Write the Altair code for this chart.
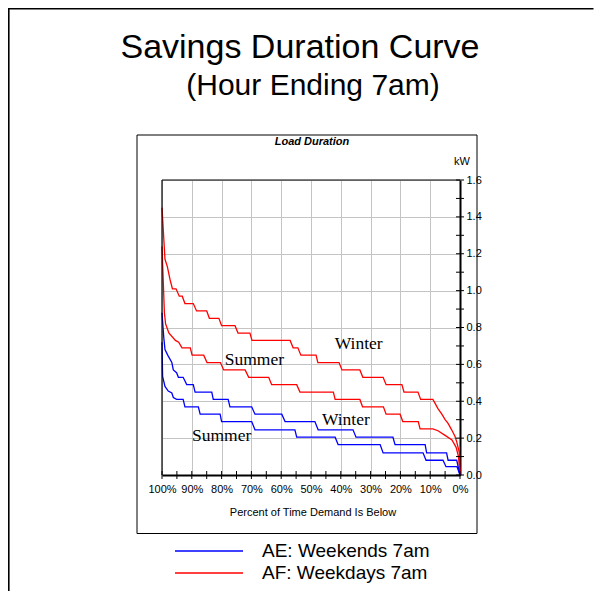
import altair as alt
import pandas as pd

# ---- data ----
af_winter_pct = [100, 99.0, 98.2, 97.3, 96.5, 95.3, 94.2, 93.2, 92.3, 89.5, 88.4, 85.0, 84.1, 80.9, 80.0,
                 75.5, 74.5, 70.5, 69.8, 57.0, 56.0, 54.4, 53.4, 48.3, 47.7, 40.6, 39.6, 33.6, 32.6, 25.8,
                 24.8, 19.5, 18.8, 14.1, 13.2, 9.1, 8.4, 7.4, 6.1, 5.0, 4.0, 2.8, 1.7, 1.1, 0.2, 0]
af_winter_kw = [1.45, 1.17, 1.13, 1.06, 1.01, 1.01, 0.97, 0.97, 0.93, 0.93, 0.89, 0.89, 0.85, 0.85, 0.81,
                0.81, 0.77, 0.77, 0.73, 0.73, 0.69, 0.69, 0.65, 0.65, 0.61, 0.61, 0.57, 0.57, 0.53, 0.53,
                0.49, 0.49, 0.45, 0.45, 0.41, 0.41, 0.39, 0.36, 0.33, 0.30, 0.28, 0.245, 0.21, 0.18, 0.12, 0.0]

af_summer_pct = [100, 99.2, 98.8, 97.7, 95.5, 94.4, 93.3, 90.5, 89.9, 86.0, 84.9, 80.4, 79.3, 72.1, 70.9,
                 64.2, 63.2, 54.8, 53.7, 42.5, 41.9, 33.6, 32.7, 25.7, 24.8, 20.1, 19.2, 14.0, 13.4, 9.1,
                 7.4, 5.0, 2.7, 1.3, 0.5, 0]
af_summer_kw = [1.24, 0.88, 0.82, 0.77, 0.73, 0.72, 0.69, 0.69, 0.65, 0.65, 0.61, 0.61, 0.57, 0.57, 0.53,
                0.53, 0.49, 0.49, 0.45, 0.45, 0.41, 0.41, 0.37, 0.37, 0.33, 0.33, 0.29, 0.29, 0.25, 0.25,
                0.24, 0.215, 0.19, 0.15, 0.10, 0.0]

ae_winter_pct = [100, 99.4, 99.0, 97.9, 96.7, 96.2, 95.1, 94.5, 92.9, 91.7, 89.5, 88.9, 83.3, 82.8, 77.8,
                 77.2, 69.9, 68.8, 59.8, 58.7, 48.7, 47.6, 35.9, 34.9, 22.5, 21.8, 11.7, 11.2, 4.5, 4.0,
                 1.1, 0]
ae_winter_kw = [0.88, 0.745, 0.68, 0.645, 0.61, 0.57, 0.555, 0.53, 0.53, 0.49, 0.49, 0.45, 0.45, 0.41, 0.41,
                0.37, 0.37, 0.33, 0.33, 0.29, 0.29, 0.245, 0.245, 0.205, 0.205, 0.165, 0.165, 0.12, 0.12, 0.08,
                0.08, 0.0]

ae_summer_pct = [100, 99.8, 99.0, 97.9, 96.7, 96.2, 95.1, 92.9, 92.3, 87.8, 87.2, 80.5, 80.0, 69.9, 68.8,
                 55.4, 54.8, 41.9, 40.9, 26.8, 25.8, 12.4, 11.4, 5.7, 4.7, 1.0, 0]
ae_summer_kw = [0.72, 0.535, 0.48, 0.455, 0.445, 0.42, 0.41, 0.41, 0.37, 0.37, 0.33, 0.33, 0.29, 0.29, 0.245,
                0.245, 0.205, 0.205, 0.165, 0.165, 0.12, 0.12, 0.08, 0.08, 0.045, 0.045, 0.0]

label_text = ["Winter", "Summer", "Winter", "Summer"]
label_pct = [34.0, 69.0, 38.3, 80.0]
label_kw = [0.71, 0.625, 0.30, 0.21]

x_label_values = [0, 10, 20, 30, 40, 50, 60, 70, 80, 90, 100]
x_tick_values = [0, 5, 10, 15, 20, 25, 30, 35, 40, 45, 50, 55, 60, 65, 70, 75, 80, 85, 90, 95, 100]
y_label_values = [0.0, 0.2, 0.4, 0.6, 0.8, 1.0, 1.2, 1.4, 1.6]
y_tick_values = [0.0, 0.1, 0.2, 0.3, 0.4, 0.5, 0.6, 0.7, 0.8, 0.9, 1.0, 1.1, 1.2, 1.3, 1.4, 1.5, 1.6]

# ---- build tables ----
rows = []
for name, pcts, kws in [("AF Winter", af_winter_pct, af_winter_kw),
                        ("AF Summer", af_summer_pct, af_summer_kw),
                        ("AE Winter", ae_winter_pct, ae_winter_kw),
                        ("AE Summer", ae_summer_pct, ae_summer_kw)]:
    for i, (p, k) in enumerate(zip(pcts, kws)):
        rows.append({"series": name, "pct": p, "kW": k, "order": i})
curves = pd.DataFrame(rows)
labels = pd.DataFrame({"text": label_text, "pct": label_pct, "kW": label_kw})
xticks = pd.DataFrame({"pct": x_tick_values})
yticks = pd.DataFrame({"kW": y_tick_values})
one = pd.DataFrame({"k": [0]})

W, H = 298, 295
PAD_L, PAD_T, PAD_R, PAD_B = 154, 172, 137, 116
SANS = "Liberation Sans"

xscale = alt.Scale(domain=[0, 100], reverse=True, nice=False, zero=False)
yscale = alt.Scale(domain=[0, 1.6], nice=False)

common_axis = dict(title=None, ticks=False, domainWidth=2, domainColor="black", grid=True,
                   gridColor="#c4c4c4", gridWidth=1, labelFontSize=11, labelFont=SANS,
                   labelColor="black", labelOverlap=False, labelFlush=False, labelBound=False)
x_axis = alt.Axis(values=x_label_values, labelExpr="datum.value + '%'", labelPadding=8, **common_axis)
y_axis = alt.Axis(orient="right", values=y_label_values, format=".1f", labelPadding=6, **common_axis)

X = alt.X("pct:Q", scale=xscale, axis=x_axis)
Y = alt.Y("kW:Q", scale=yscale, axis=y_axis)

lines = alt.Chart(curves).mark_line(strokeWidth=1.3, clip=False).encode(
    x=X, y=Y,
    color=alt.Color("series:N", legend=None,
                    scale=alt.Scale(domain=["AF Winter", "AF Summer", "AE Winter", "AE Summer"],
                                    range=["#ff0000", "#ff0000", "#0000ff", "#0000ff"])),
    detail="series:N",
    order="order:Q",
)

xtick_layer = alt.Chart(xticks).mark_rule(color="black", strokeWidth=1).encode(
    x=X, y=alt.value(H - 4), y2=alt.value(H + 4))
ytick_layer = alt.Chart(yticks).mark_rule(color="black", strokeWidth=1).encode(
    y=Y, x=alt.value(W - 4), x2=alt.value(W + 4))

curve_labels = alt.Chart(labels).mark_text(font="Liberation Serif", fontSize=17.5, color="black",
                                           align="center", baseline="middle").encode(
    x=X, y=Y, text="text:N")


def txt(s, x, y, size, weight="normal", style="normal", align="center", font=SANS):
    return alt.Chart(one).mark_text(font=font, fontSize=size, fontWeight=weight, fontStyle=style,
                                    align=align, baseline="middle", color="black").encode(
        x=alt.value(x), y=alt.value(y), text=alt.value(s))


def hrule(x1, x2, y, color, width):
    return alt.Chart(one).mark_rule(color=color, strokeWidth=width).encode(
        x=alt.value(x1), x2=alt.value(x2), y=alt.value(y))


def vrule(x, y1, y2, color, width):
    return alt.Chart(one).mark_rule(color=color, strokeWidth=width).encode(
        x=alt.value(x), y=alt.value(y1), y2=alt.value(y2))


def box(x1, y1, x2, y2, width):
    return alt.Chart(one).mark_rect(fill="transparent", stroke="black", strokeWidth=width).encode(
        x=alt.value(x1), x2=alt.value(x2), y=alt.value(y1), y2=alt.value(y2))


# origin of plot area is page (162, 180)
right_edge = W + PAD_R
bottom_edge = H + PAD_B
outer_top = hrule(-154, right_edge + 5, -171.5, "black", 2.2)
outer_left = vrule(-153.5, -172, bottom_edge + 5, "black", 2.2)
mask_right = vrule(right_edge - 1.5, -180, bottom_edge + 5, "white", 4)
mask_bottom = hrule(-150, right_edge + 5, bottom_edge - 1.5, "white", 4)
inner = box(-25, -45, 315, 353.5, 1)
plot_top = hrule(0, W, 0, "black", 1.2)
plot_left = vrule(0, 0, H, "black", 1.2)
title = txt("Savings Duration Curve", 138, -132, 34)
subtitle = txt("(Hour Ending 7am)", 151, -94, 30)
load = txt("Load Duration", 150, -38, 11, weight="bold", style="italic")
kw = txt("kW", 300, -18, 11)
xtitle = txt("Percent of Time Demand Is Below", 151, 333, 11)
leg1 = hrule(13, 81, 371, "#0000ff", 1.3)
leg2 = hrule(13, 81, 393, "#ff0000", 1.3)
leg1t = txt("AE: Weekends 7am", 100, 371, 19, align="left")
leg2t = txt("AF: Weekdays 7am", 100, 393, 19, align="left")

chart = alt.layer(
    lines, xtick_layer, ytick_layer, curve_labels, plot_top, plot_left,
    outer_top, outer_left, mask_right, mask_bottom, inner, title, subtitle, load, kw, xtitle,
    leg1, leg2, leg1t, leg2t,
).properties(
    width=W, height=H,
    autosize=alt.AutoSizeParams(type="none"),
    padding={"left": PAD_L, "top": PAD_T, "right": PAD_R, "bottom": PAD_B},
).configure_view(strokeWidth=0).configure(background="white")

chart.save("out.html", embed_options={"renderer": "svg", "actions": False})
